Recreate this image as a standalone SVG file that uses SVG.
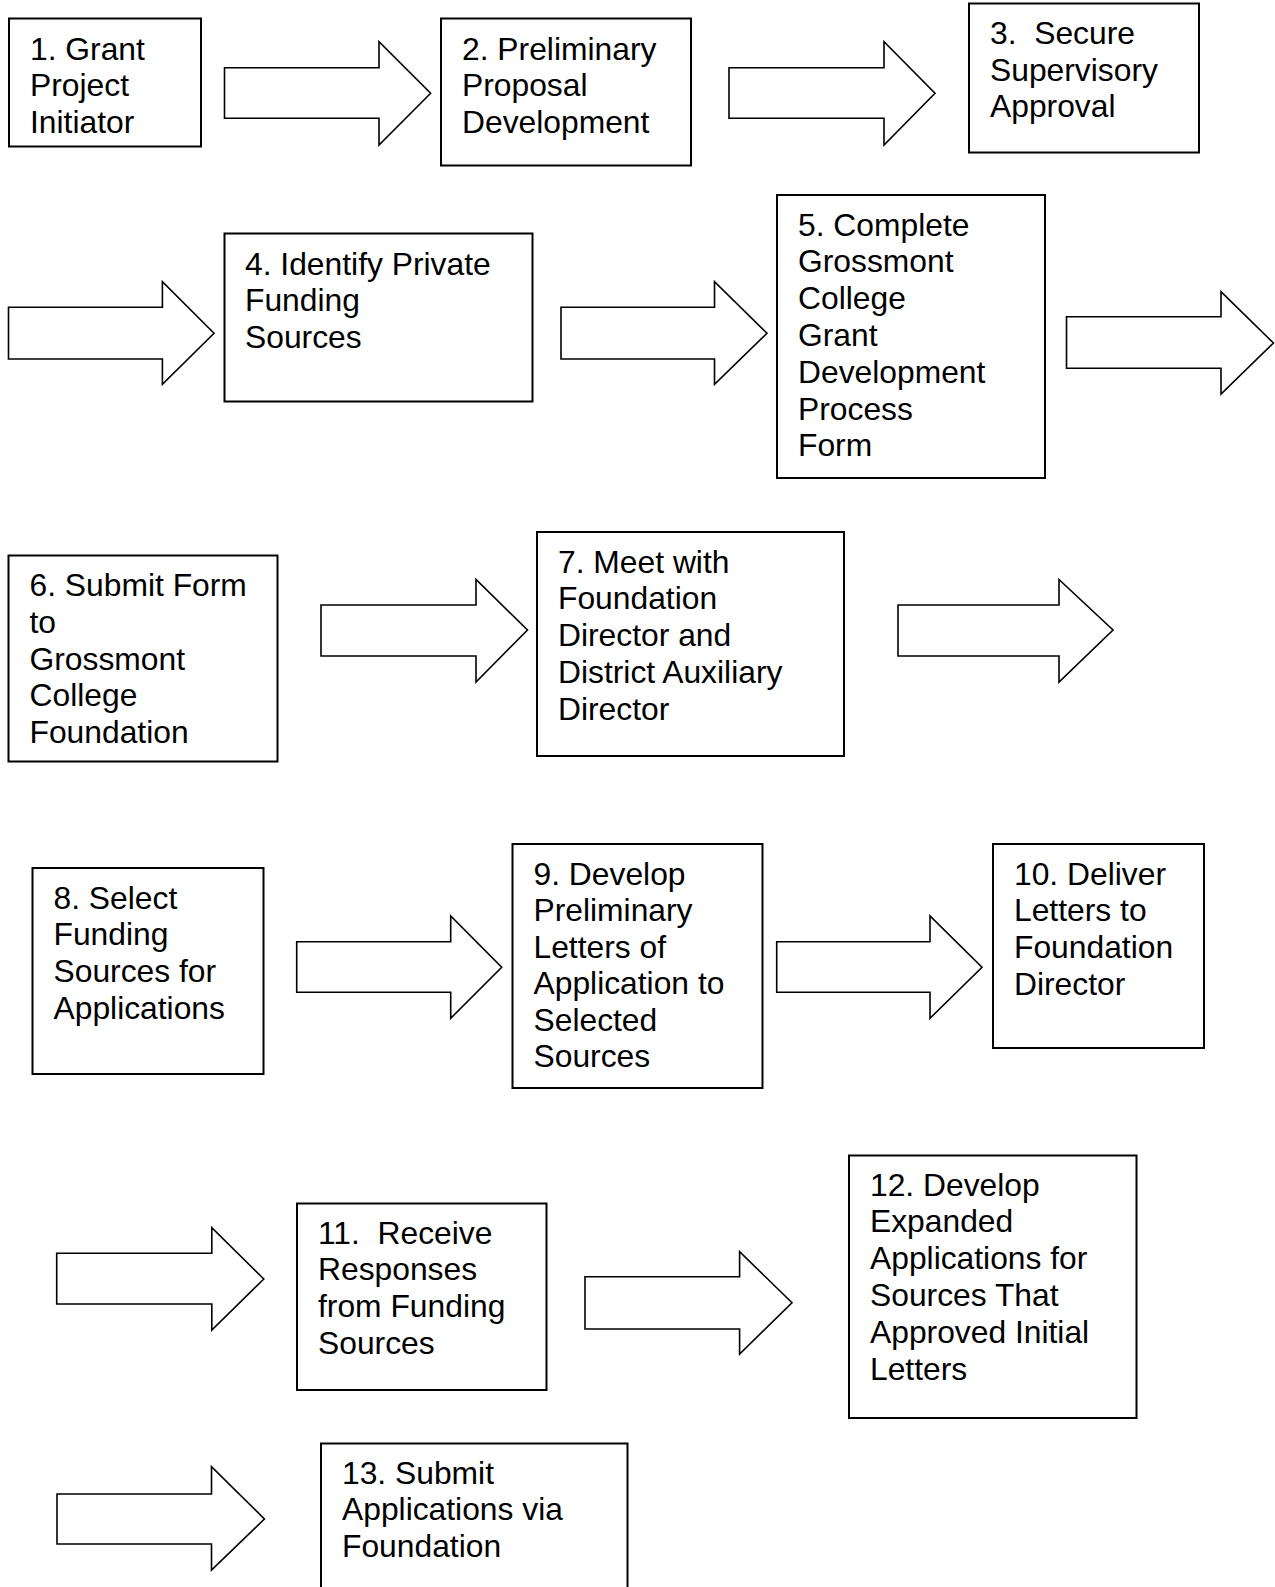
<svg xmlns="http://www.w3.org/2000/svg" width="1275" height="1587" viewBox="0 0 1275 1587">
<style>
  .box { fill: #fff; stroke: #000; stroke-width: 2; }
  .arr { fill: #fff; stroke: #000; stroke-width: 1.6; stroke-linejoin: miter; }
  .t { font-family: "Liberation Sans", Arial, sans-serif; font-size: 31.8px; fill: #000; white-space: pre; }
</style>
<rect x="0" y="0" width="1275" height="1587" fill="#fff"/>

<g id="connectors">
  <polygon class="arr" points="224.5,67.7 379,67.7 379,41.7 430.6,93.3 379,145 379,118.3 224.5,118.3"/>
  <polygon class="arr" points="729,67.7 884,67.7 884,41.7 935,93.3 884,145 884,118.3 729,118.3"/>
  <polygon class="arr" points="8.5,307.3 162.4,307.3 162.4,281.7 214,333.3 162.4,384.3 162.4,359 8.5,359"/>
  <polygon class="arr" points="561,307.3 714.5,307.3 714.5,281.7 767,333.3 714.5,384.3 714.5,359 561,359"/>
  <polygon class="arr" points="1066.5,316.7 1221,316.7 1221,291.7 1273.5,343 1221,394 1221,368.3 1066.5,368.3"/>
  <polygon class="arr" points="321,605 476,605 476,579.5 527.5,630 476,682 476,656 321,656"/>
  <polygon class="arr" points="898,605 1059,605 1059,579.5 1113,630 1059,682 1059,656 898,656"/>
  <polygon class="arr" points="296.7,941.7 450.7,941.7 450.7,916 501.7,967.3 450.7,1018.3 450.7,992.3 296.7,992.3"/>
  <polygon class="arr" points="776.7,941.7 930,941.7 930,916 982,967.3 930,1018.3 930,992.3 776.7,992.3"/>
  <polygon class="arr" points="56.7,1253.3 211.8,1253.3 211.8,1227.7 263.8,1279 211.8,1330 211.8,1304 56.7,1304"/>
  <polygon class="arr" points="585,1276.7 739.6,1276.7 739.6,1251.7 792,1302.7 739.6,1354 739.6,1329 585,1329"/>
  <polygon class="arr" points="57,1494 211.5,1494 211.5,1466.7 264.4,1519 211.5,1570 211.5,1544 57,1544"/>
</g>

<g id="node1">
  <rect class="box" x="9" y="18.5" width="192" height="128"/>
  <text class="t" x="30" y="59.5"><tspan x="30">1. Grant</tspan><tspan x="30" dy="36.5">Project</tspan><tspan x="30" dy="36.5">Initiator</tspan></text>
</g>
<g id="node2">
  <rect class="box" x="441" y="18.5" width="250" height="147"/>
  <text class="t" x="462" y="59.5"><tspan x="462">2. Preliminary</tspan><tspan x="462" dy="36.5">Proposal</tspan><tspan x="462" dy="36.5">Development</tspan></text>
</g>
<g id="node3">
  <rect class="box" x="969" y="3.5" width="230" height="149"/>
  <text class="t" x="990" y="44"><tspan x="990">3.  Secure</tspan><tspan x="990" dy="36.5">Supervisory</tspan><tspan x="990" dy="36.5">Approval</tspan></text>
</g>
<g id="node4">
  <rect class="box" x="224.5" y="233.5" width="308" height="168"/>
  <text class="t" x="245" y="274.5"><tspan x="245">4. Identify Private</tspan><tspan x="245" dy="36.5">Funding</tspan><tspan x="245" dy="36.5">Sources</tspan></text>
</g>
<g id="node5">
  <rect class="box" x="777" y="195" width="268" height="283"/>
  <text class="t" x="798" y="235.5"><tspan x="798">5. Complete</tspan><tspan x="798" dy="36.8">Grossmont</tspan><tspan x="798" dy="36.8">College</tspan><tspan x="798" dy="36.8">Grant</tspan><tspan x="798" dy="36.8">Development</tspan><tspan x="798" dy="36.8">Process</tspan><tspan x="798" dy="36.8">Form</tspan></text>
</g>
<g id="node6">
  <rect class="box" x="8.5" y="555.5" width="269" height="206"/>
  <text class="t" x="29.5" y="596"><tspan x="29.5">6. Submit Form</tspan><tspan x="29.5" dy="36.8">to</tspan><tspan x="29.5" dy="36.8">Grossmont</tspan><tspan x="29.5" dy="36.8">College</tspan><tspan x="29.5" dy="36.8">Foundation</tspan></text>
</g>
<g id="node7">
  <rect class="box" x="537" y="532" width="307" height="224"/>
  <text class="t" x="558" y="572.5"><tspan x="558">7. Meet with</tspan><tspan x="558" dy="36.8">Foundation</tspan><tspan x="558" dy="36.8">Director and</tspan><tspan x="558" dy="36.8">District Auxiliary</tspan><tspan x="558" dy="36.8">Director</tspan></text>
</g>
<g id="node8">
  <rect class="box" x="32.5" y="868" width="231" height="206"/>
  <text class="t" x="53.5" y="908.5"><tspan x="53.5">8. Select</tspan><tspan x="53.5" dy="36.8">Funding</tspan><tspan x="53.5" dy="36.8">Sources for</tspan><tspan x="53.5" dy="36.8">Applications</tspan></text>
</g>
<g id="node9">
  <rect class="box" x="512.5" y="844" width="250" height="244"/>
  <text class="t" x="533.5" y="884.5"><tspan x="533.5">9. Develop</tspan><tspan x="533.5" dy="36.5">Preliminary</tspan><tspan x="533.5" dy="36.5">Letters of</tspan><tspan x="533.5" dy="36.5">Application to</tspan><tspan x="533.5" dy="36.5">Selected</tspan><tspan x="533.5" dy="36.5">Sources</tspan></text>
</g>
<g id="node10">
  <rect class="box" x="993" y="844" width="211" height="204"/>
  <text class="t" x="1014" y="884.5"><tspan x="1014">10. Deliver</tspan><tspan x="1014" dy="36.8">Letters to</tspan><tspan x="1014" dy="36.8">Foundation</tspan><tspan x="1014" dy="36.8">Director</tspan></text>
</g>
<g id="node11">
  <rect class="box" x="297" y="1203.5" width="249.5" height="186.5"/>
  <text class="t" x="318" y="1243.5"><tspan x="318">11.  Receive</tspan><tspan x="318" dy="36.8">Responses</tspan><tspan x="318" dy="36.8">from Funding</tspan><tspan x="318" dy="36.8">Sources</tspan></text>
</g>
<g id="node12">
  <rect class="box" x="849" y="1155.5" width="287.5" height="262.5"/>
  <text class="t" x="870" y="1195.5"><tspan x="870">12. Develop</tspan><tspan x="870" dy="36.8">Expanded</tspan><tspan x="870" dy="36.8">Applications for</tspan><tspan x="870" dy="36.8">Sources That</tspan><tspan x="870" dy="36.8">Approved Initial</tspan><tspan x="870" dy="36.8">Letters</tspan></text>
</g>
<g id="node13">
  <rect class="box" x="321" y="1443.5" width="306.5" height="170"/>
  <text class="t" x="342" y="1483.5"><tspan x="342">13. Submit</tspan><tspan x="342" dy="36.8">Applications via</tspan><tspan x="342" dy="36.8">Foundation</tspan></text>
</g>
</svg>
